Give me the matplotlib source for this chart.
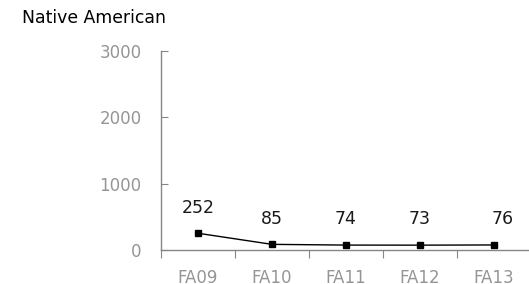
import matplotlib.pyplot as plt

terms = ['FA09', 'FA10', 'FA11', 'FA12', 'FA13']
students = [252, 85, 74, 73, 76]
yticks = [0, 1000, 2000, 3000]

plt.rcParams['font.family'] = 'DejaVu Sans'

fig = plt.figure(figsize=(5.29, 2.84), dpi=100)
ax = fig.add_axes([161 / 529, 34 / 284, 370 / 529, 199.3 / 284])

x = list(range(len(terms)))
ax.plot(x, students, color='black', linewidth=1, marker='s', markersize=4.8)

# data labels above the points, Excel style
for i, v in enumerate(students):
    dx = 6 if i == len(students) - 1 else 0
    ax.annotate(str(v), (i, v), xytext=(dx, 12), textcoords='offset points',
                ha='center', va='bottom', fontsize=12.5, color='#1a1a1a')

ax.set_xlim(-0.5, 4.5)
ax.set_ylim(0, 3000)
ax.set_yticks(yticks)
ax.set_yticklabels([str(t) for t in yticks])

# ticks between categories, labels at categories
ax.set_xticks([i - 0.5 for i in range(len(terms) + 1)])
ax.set_xticklabels([])
ax.set_xticks(x, minor=True)
ax.set_xticklabels(terms, minor=True)
ax.tick_params(axis='x', which='major', direction='out', length=6, color='#868686')
ax.tick_params(axis='x', which='minor', length=0, pad=14, labelsize=12, labelcolor='#959595')
ax.tick_params(axis='y', direction='in', length=5, color='#868686', pad=14,
               labelsize=12, labelcolor='#959595')

for side in ['top', 'right']:
    ax.spines[side].set_visible(False)
for side in ['left', 'bottom']:
    ax.spines[side].set_color('#868686')
    ax.spines[side].set_linewidth(1)

fig.text(22 / 529, 1 - 18 / 284, 'Native American', ha='left', va='center',
         fontsize=12.4, color='black')

fig.savefig('out.png', dpi=100)
